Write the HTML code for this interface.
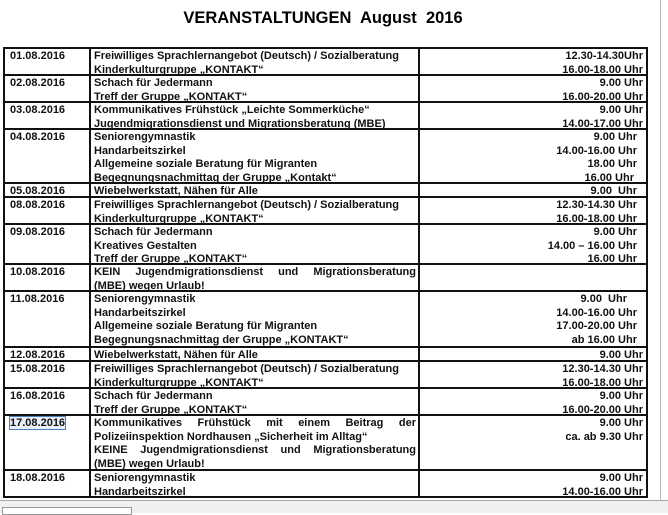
<!DOCTYPE html>
<html><head><meta charset="utf-8"><style>
body{margin:0;width:668px;height:513px;background:#fff;position:relative;overflow:hidden;font-family:"Liberation Sans",Arial,sans-serif;}
*{box-sizing:border-box;}
.t{position:absolute;left:0;width:646px;top:9px;text-align:center;font-weight:bold;font-size:16.5px;color:#000;}
.r{position:absolute;left:3px;width:645px;border:2px solid #111;border-bottom:none;}
.c{position:absolute;top:0;bottom:0;font-size:11px;font-weight:bold;line-height:13.5px;color:#111;padding-top:1px;}
.d{left:0;width:86px;padding-left:5px;border-right:2px solid #111;}
.e{left:86px;width:329px;padding-left:3px;border-right:2px solid #111;}
.u{left:415px;width:223px;text-align:right;}
.j{text-align:justify;text-align-last:justify;}
</style></head><body>
<div class="t">VERANSTALTUNGEN&nbsp; August&nbsp; 2016</div>

<div class="r" style="top:47px;height:27px"><div class="c d">01.08.2016</div><div class="c e">Freiwilliges Sprachlernangebot (Deutsch) / Sozialberatung<br>Kinderkulturgruppe „KONTAKT“</div><div class="c u">12.30-14.30Uhr<br>16.00-18.00 Uhr</div></div>
<div class="r" style="top:74px;height:27px"><div class="c d">02.08.2016</div><div class="c e">Schach für Jedermann<br>Treff der Gruppe „KONTAKT“</div><div class="c u">9.00 Uhr<br>16.00-20.00 Uhr</div></div>
<div class="r" style="top:101px;height:27px"><div class="c d">03.08.2016</div><div class="c e">Kommunikatives Frühstück „Leichte Sommerküche“<br>Jugendmigrationsdienst und Migrationsberatung (MBE)</div><div class="c u">9.00 Uhr<br>14.00-17.00 Uhr</div></div>
<div class="r" style="top:128px;height:54px"><div class="c d">04.08.2016</div><div class="c e">Seniorengymnastik<br>Handarbeitszirkel<br>Allgemeine soziale Beratung für Migranten<br>Begegnungsnachmittag der Gruppe „Kontakt“</div><div class="c u" style="padding-right:6px;">9.00 Uhr<br>14.00-16.00 Uhr<br>18.00 Uhr<br><span style="margin-right:3px">16.00 Uhr</span></div></div>
<div class="r" style="top:182px;height:14px"><div class="c d">05.08.2016</div><div class="c e">Wiebelwerkstatt, Nähen für Alle</div><div class="c u" style="padding-right:6px;">9.00&nbsp; Uhr</div></div>
<div class="r" style="top:196px;height:27px"><div class="c d">08.08.2016</div><div class="c e">Freiwilliges Sprachlernangebot (Deutsch) / Sozialberatung<br>Kinderkulturgruppe „KONTAKT“</div><div class="c u" style="padding-right:6px;">12.30-14.30 Uhr<br>16.00-18.00 Uhr</div></div>
<div class="r" style="top:223px;height:40px"><div class="c d">09.08.2016</div><div class="c e">Schach für Jedermann<br>Kreatives Gestalten<br>Treff der Gruppe „KONTAKT“</div><div class="c u" style="padding-right:6px;">9.00 Uhr<br>14.00 – 16.00 Uhr<br>16.00 Uhr</div></div>
<div class="r" style="top:263px;height:27px"><div class="c d">10.08.2016</div><div class="c e"><div class="j" style="width:322px">KEIN Jugendmigrationsdienst und Migrationsberatung</div>(MBE) wegen Urlaub!</div><div class="c u"></div></div>
<div class="r" style="top:290px;height:56px"><div class="c d">11.08.2016</div><div class="c e">Seniorengymnastik<br>Handarbeitszirkel<br>Allgemeine soziale Beratung für Migranten<br>Begegnungsnachmittag der Gruppe „KONTAKT“</div><div class="c u" style="padding-right:6px;"><span style="margin-right:10px">9.00&nbsp; Uhr</span><br>14.00-16.00 Uhr<br>17.00-20.00 Uhr<br>ab 16.00 Uhr</div></div>
<div class="r" style="top:346px;height:14px"><div class="c d">12.08.2016</div><div class="c e">Wiebelwerkstatt, Nähen für Alle</div><div class="c u">9.00 Uhr</div></div>
<div class="r" style="top:360px;height:27px"><div class="c d">15.08.2016</div><div class="c e">Freiwilliges Sprachlernangebot (Deutsch) / Sozialberatung<br>Kinderkulturgruppe „KONTAKT“</div><div class="c u">12.30-14.30 Uhr<br>16.00-18.00 Uhr</div></div>
<div class="r" style="top:387px;height:27px"><div class="c d">16.08.2016</div><div class="c e">Schach für Jedermann<br>Treff der Gruppe „KONTAKT“</div><div class="c u">9.00 Uhr<br>16.00-20.00 Uhr</div></div>
<div class="r" style="top:414px;height:55px"><div class="c d"><span style="outline:1px solid #4a7fc0;background:#e8f0fa">17.08.2016</span></div><div class="c e"><div class="j" style="width:322px">Kommunikatives Frühstück mit einem Beitrag der</div>Polizeiinspektion Nordhausen „Sicherheit im Alltag“<div class="j" style="width:322px">KEINE Jugendmigrationsdienst und Migrationsberatung</div>(MBE) wegen Urlaub!</div><div class="c u">9.00 Uhr<br>ca. ab 9.30 Uhr</div></div>
<div class="r" style="top:469px;height:29px;border-bottom:2px solid #111"><div class="c d">18.08.2016</div><div class="c e">Seniorengymnastik<br>Handarbeitszirkel</div><div class="c u">9.00 Uhr<br>14.00-16.00 Uhr</div></div>

<div style="position:absolute;left:660px;top:0;width:1px;height:500px;background:#bbb"></div>
<div style="position:absolute;left:0;top:500px;width:668px;height:13px;background:#f0f0f0;border-top:1px solid #aaa"></div>
<div style="position:absolute;left:2px;top:507px;width:130px;height:8px;border:1px solid #999;background:#fff"></div>
</body></html>
